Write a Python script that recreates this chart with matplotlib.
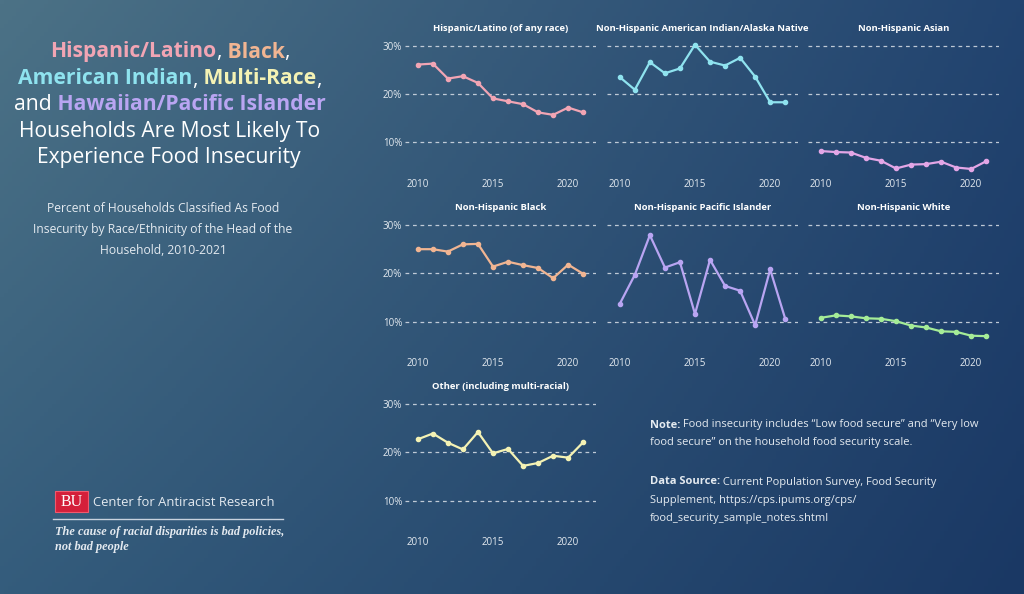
import matplotlib
matplotlib.use('Agg')
import matplotlib.pyplot as plt
from matplotlib.patches import Rectangle
import numpy as np

W, H = 1024, 594

years = np.arange(2010, 2022)

# percent of households that are food insecure
hispanic = [26.1, 26.3, 23.2, 23.7, 22.3, 19.1, 18.5, 17.9, 16.2, 15.7, 17.2, 16.2]
aian = [23.5, 20.9, 26.6, 24.3, 25.3, 30.2, 26.7, 25.9, 27.5, 23.6, 18.3, 18.3]
asian = [8.2, 8.0, 7.9, 6.8, 6.2, 4.6, 5.4, 5.5, 6.0, 4.8, 4.5, 6.1]
black = [25.0, 25.0, 24.5, 26.0, 26.1, 21.4, 22.4, 21.7, 21.1, 19.0, 21.8, 19.9]
pacific = [13.7, 19.7, 27.9, 21.2, 22.3, 11.6, 22.8, 17.4, 16.4, 9.3, 20.8, 10.6]
white = [10.8, 11.3, 11.1, 10.7, 10.6, 10.1, 9.2, 8.8, 8.0, 7.9, 7.1, 7.0]
other = [22.7, 23.9, 22.0, 20.6, 24.2, 19.8, 20.7, 17.2, 17.8, 19.3, 18.9, 22.1]

panel_titles = ["Hispanic/Latino (of any race)",
                "Non-Hispanic American Indian/Alaska Native",
                "Non-Hispanic Asian",
                "Non-Hispanic Black",
                "Non-Hispanic Pacific Islander",
                "Non-Hispanic White",
                "Other (including multi-racial)"]
panel_data = [hispanic, aian, asian, black, pacific, white, other]
panel_colors = ['#f2a5b4', '#8fe3ef', '#e3a6e6', '#f1b592', '#b9a5f2', '#a5ec97', '#f4f2b4']

y_ticks = [10, 20, 30]
y_labels = ['10%', '20%', '30%']
x_ticks = [2010, 2015, 2020]

FONT = 'Open Sans'
TXT = '#e4eaf0'

fig = plt.figure(figsize=(W / 100, H / 100), dpi=100)

# background gradient
bg = fig.add_axes([0, 0, 1, 1], zorder=-10)
tl, tr = np.array([76, 114, 134]), np.array([34, 68, 112])
bl, br = np.array([52, 92, 124]), np.array([26, 56, 100])
u = np.linspace(0, 1, 256)[None, :, None]
v = np.linspace(0, 1, 150)[:, None, None]
img = (tl * (1 - u) * (1 - v) + tr * u * (1 - v) + bl * (1 - u) * v + br * u * v) / 255
bg.imshow(img, aspect='auto', extent=[0, 1, 0, 1])
bg.axis('off')

# small multiples
col_left = [405, 607, 808]
row_top = [40.9, 220.2, 399.2]
aw, ah = 191, 135.3
for i, (title, vals, c) in enumerate(zip(panel_titles, panel_data, panel_colors)):
    r, k = divmod(i, 3)
    ax = fig.add_axes([col_left[k] / W, 1 - (row_top[r] + ah) / H, aw / W, ah / H])
    ax.patch.set_alpha(0)
    ax.plot(years, vals, color=c, lw=1.6, marker='o', ms=3.0, zorder=3)
    ax.set_xlim(2009.15, 2021.85)
    ax.set_ylim(3, 31)
    ax.set_yticks(y_ticks)
    ax.set_yticklabels(y_labels if k == 0 else [])
    ax.set_xticks(x_ticks)
    ax.grid(axis='y', color='#d0d8e2', lw=0.9, linestyle=(0, (3, 3)), alpha=0.9)
    for s in ax.spines.values():
        s.set_visible(False)
    ax.tick_params(length=0, labelsize=7, labelcolor=TXT, pad=2)
    for lab in ax.get_xticklabels() + ax.get_yticklabels():
        lab.set_fontfamily(FONT)
    ax.set_title(title, fontsize=6.8, color='white', fontweight='bold',
                 fontfamily=FONT, pad=7)

renderer = fig.canvas.get_renderer()


def rich_line(pieces, x, y, ha='center', **kw):
    texts = [fig.text(0, 1 - y / H, s, color=c, fontweight=wt, va='center',
                      fontfamily=FONT, **kw) for s, c, wt in pieces]
    widths = [t.get_window_extent(renderer).width for t in texts]
    x0 = x - sum(widths) / 2 if ha == 'center' else x
    for t, w in zip(texts, widths):
        t.set_x(x0 / W)
        x0 += w


# headline
wh = 'white'
HS = 15.2
rich_line([("Hispanic/Latino", '#f2a5b4', 'bold'), (",", wh, 'normal'),
           (" Black", '#f1b592', 'bold'), (",", wh, 'normal')], 170, 52, fontsize=HS)
rich_line([("American Indian", '#8fe3ef', 'bold'), (",", wh, 'normal'),
           (" Multi-Race", '#f4f2b4', 'bold'), (",", wh, 'normal')], 170, 79, fontsize=HS)
rich_line([("and", wh, 'normal'), (" Hawaiian/Pacific Islander", '#b9a5f2', 'bold')],
          170, 105, fontsize=HS)
rich_line([("Households Are Most Likely To", wh, 'normal')], 170, 132, fontsize=HS)
rich_line([("Experience Food Insecurity", wh, 'normal')], 169, 158, fontsize=HS)

# subtitle
sub = ["Percent of Households Classified As Food",
       "Insecurity by Race/Ethnicity of the Head of the",
       "Household, 2010-2021"]
for j, s in enumerate(sub):
    fig.text(163 / W, 1 - (208 + 21 * j) / H, s, ha='center', va='center',
             fontsize=8.7, color=TXT, fontfamily=FONT)

# notes
NS = 8.0
rich_line([("Note:", TXT, 'bold'),
           (" Food insecurity includes \u201cLow food secure\u201d and \u201cVery low", TXT, 'normal')],
          650, 425, ha='left', fontsize=NS)
rich_line([("food secure\u201d on the household food security scale.", TXT, 'normal')],
          650, 443, ha='left', fontsize=NS)
rich_line([("Data Source:", TXT, 'bold'),
           (" Current Population Survey, Food Security", TXT, 'normal')],
          650, 482, ha='left', fontsize=NS)
rich_line([("Supplement, https://cps.ipums.org/cps/", TXT, 'normal')],
          650, 500, ha='left', fontsize=NS)
rich_line([("food_security_sample_notes.shtml", TXT, 'normal')],
          650, 518, ha='left', fontsize=NS)

# logo block
fig.patches.append(Rectangle((55 / W, 1 - 512 / H), 33 / W, 21 / H, transform=fig.transFigure,
                             facecolor='#d41f3a', edgecolor='#f05a6e', lw=0.8))
fig.text(71.5 / W, 1 - 502 / H, "BU", ha='center', va='center', color='white',
         fontsize=11.5, fontfamily='Liberation Serif')
fig.text(93 / W, 1 - 502 / H, "Center for Antiracist Research", va='center',
         color=TXT, fontsize=9.4, fontfamily=FONT)
fig.add_artist(plt.Line2D([53 / W, 283 / W], [1 - 518.5 / H, 1 - 518.5 / H],
                          color='#c8d2de', lw=1))
fig.text(55 / W, 1 - 532 / H, "The cause of racial disparities is bad policies,",
         va='center', color=TXT, fontsize=8.8, style='italic', fontweight='bold',
         fontfamily='Liberation Serif')
fig.text(55 / W, 1 - 547 / H, "not bad people", va='center', color=TXT, fontsize=8.8,
         style='italic', fontweight='bold', fontfamily='Liberation Serif')

fig.savefig('out.png', dpi=100)
